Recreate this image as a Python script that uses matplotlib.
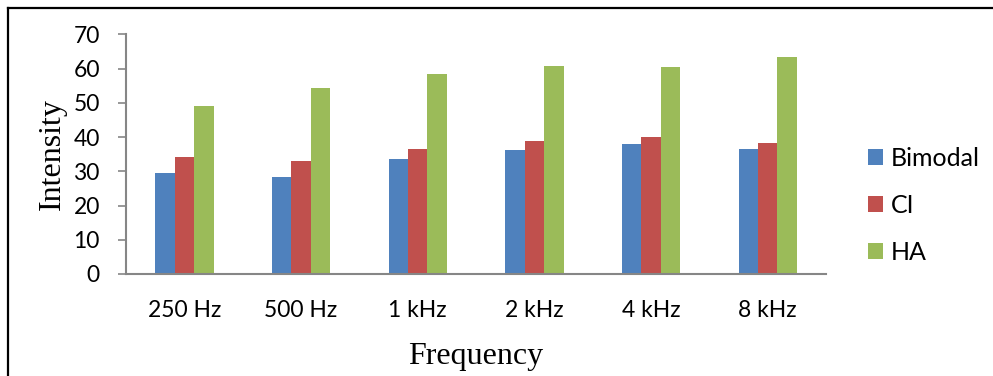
import matplotlib
matplotlib.use("Agg")
import matplotlib.pyplot as plt
import numpy as np
from matplotlib.patches import Patch
from matplotlib.lines import Line2D

categories = ["250 Hz", "500 Hz", "1 kHz", "2 kHz", "4 kHz", "8 kHz"]
bimodal = [29.5, 28.4, 33.6, 36.3, 38.0, 36.6]
ci = [34.2, 32.9, 36.6, 39.0, 39.9, 38.3]
ha = [49.2, 54.3, 58.6, 60.9, 60.6, 63.5]
series_names = ["Bimodal", "CI", "HA"]
colors = ["#4F81BD", "#C0504D", "#9BBB59"]
yticks = [0, 10, 20, 30, 40, 50, 60, 70]

W, H = 993, 376
fig = plt.figure(figsize=(W / 100, H / 100), dpi=100)
ax = fig.add_axes([126 / W, 1 - 274 / H, 700 / W, (274 - 34.5) / H])

x = np.arange(len(categories))
bw = 1 / 6
for i, (vals, c) in enumerate(zip([bimodal, ci, ha], colors)):
    ax.bar(x + (i - 1) * bw, vals, width=bw, color=c, edgecolor="none", zorder=2)

ax.set_xlim(-0.5, len(categories) - 0.5)
ax.set_ylim(0, 70)
ax.set_yticks(yticks)
ax.set_xticks(x)
ax.set_xticklabels(categories)
for lbl in ax.get_xticklabels() + ax.get_yticklabels():
    lbl.set_fontfamily("Lato")
    lbl.set_fontsize(16.5)
ax.tick_params(axis="x", length=0, pad=18.5, colors="black")
ax.tick_params(axis="y", length=5.8, width=1.2, color="#868686", direction="out", pad=13)
for s in ["top", "right"]:
    ax.spines[s].set_visible(False)
for s in ["left", "bottom"]:
    ax.spines[s].set_color("#868686")
    ax.spines[s].set_linewidth(1.5)

ax.set_ylabel("Intensity", family="Liberation Serif", fontsize=23, labelpad=5)
ax.set_xlabel("Frequency", family="Liberation Serif", fontsize=23, labelpad=15)

handles = [Patch(facecolor=c, edgecolor="none") for c in colors]
leg = fig.legend(handles, series_names, loc="upper left",
                 bbox_to_anchor=(868 / W, 1 - 147 / H), frameon=False,
                 prop=dict(family="Lato", size=18), handlelength=0.6,
                 handleheight=0.6, handletextpad=0.3, labelspacing=0.95,
                 borderpad=0, borderaxespad=0)

# outer chart border (left and top visible)
fig.add_artist(Line2D([8 / W, 8 / W], [0, 1 - 8 / H], transform=fig.transFigure,
                      color="black", lw=1.6))
fig.add_artist(Line2D([8 / W, 1], [1 - 8 / H, 1 - 8 / H], transform=fig.transFigure,
                      color="black", lw=1.6))

fig.savefig("out.png", dpi=100)
